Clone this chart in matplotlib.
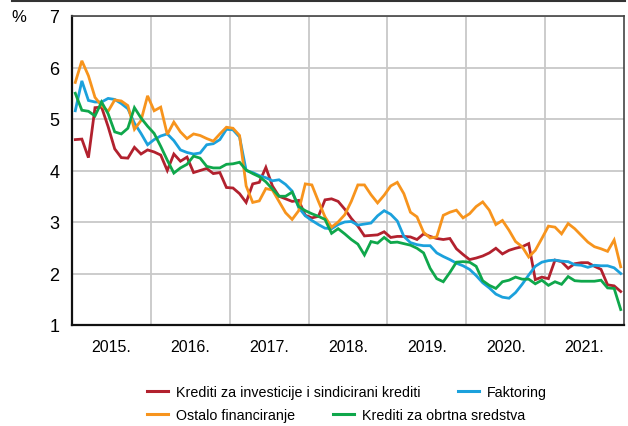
import numpy as np
import matplotlib
matplotlib.use("Agg")
import matplotlib.pyplot as plt
from matplotlib.lines import Line2D

plt.rcParams['font.family'] = ['Liberation Sans', 'DejaVu Sans']

# monthly data, Jan 2015 - Dec 2021 (%)
investicije = [4.60, 4.61, 4.25, 5.22, 5.23, 4.85, 4.42, 4.25, 4.24, 4.45, 4.32, 4.40,
               4.36, 4.30, 4.00, 4.32, 4.18, 4.26, 3.96, 4.00, 4.04, 3.94, 3.96, 3.67,
               3.66, 3.55, 3.38, 3.74, 3.77, 4.06, 3.70, 3.50, 3.45, 3.40, 3.42, 3.13,
               3.08, 3.11, 3.43, 3.45, 3.40, 3.25, 3.07, 2.92, 2.73, 2.74, 2.75, 2.81,
               2.70, 2.72, 2.72, 2.71, 2.66, 2.77, 2.72, 2.68, 2.66, 2.68, 2.48, 2.37,
               2.27, 2.30, 2.34, 2.40, 2.49, 2.38, 2.45, 2.49, 2.52, 2.58, 1.88, 1.93,
               1.90, 2.26, 2.23, 2.10, 2.19, 2.21, 2.21, 2.14, 2.08, 1.78, 1.76, 1.65]
faktoring = [5.16, 5.74, 5.36, 5.33, 5.33, 5.40, 5.38, 5.30, 5.20, 4.92, 4.72, 4.50,
             4.60, 4.67, 4.71, 4.58, 4.40, 4.35, 4.32, 4.34, 4.50, 4.52, 4.60, 4.80,
             4.79, 4.65, 4.00, 3.96, 3.90, 3.86, 3.80, 3.82, 3.73, 3.60, 3.28, 3.12,
             3.03, 2.95, 2.88, 2.87, 2.95, 3.00, 3.01, 2.94, 2.96, 2.98, 3.12, 3.22,
             3.15, 3.02, 2.72, 2.60, 2.56, 2.54, 2.54, 2.40, 2.33, 2.27, 2.20, 2.15,
             2.08, 1.96, 1.82, 1.72, 1.60, 1.54, 1.52, 1.63, 1.79, 1.97, 2.14, 2.22,
             2.25, 2.26, 2.24, 2.23, 2.17, 2.16, 2.12, 2.16, 2.15, 2.15, 2.11, 2.00]
ostalo = [5.71, 6.13, 5.84, 5.42, 5.26, 5.15, 5.37, 5.35, 5.26, 4.80, 4.97, 5.45,
          5.16, 5.23, 4.70, 4.94, 4.75, 4.62, 4.71, 4.68, 4.62, 4.57, 4.71, 4.84,
          4.82, 4.68, 3.70, 3.38, 3.41, 3.65, 3.62, 3.40, 3.18, 3.05, 3.22, 3.74,
          3.72, 3.40, 3.10, 2.90, 3.00, 3.14, 3.40, 3.72, 3.72, 3.53, 3.37, 3.52,
          3.70, 3.77, 3.55, 3.19, 3.10, 2.80, 2.69, 2.71, 3.13, 3.19, 3.23, 3.08,
          3.16, 3.30, 3.39, 3.23, 2.95, 3.03, 2.84, 2.62, 2.52, 2.32, 2.45, 2.68,
          2.92, 2.90, 2.77, 2.97, 2.87, 2.74, 2.61, 2.52, 2.48, 2.43, 2.65, 2.13]
obrtna = [5.50, 5.17, 5.15, 5.06, 5.33, 5.10, 4.75, 4.71, 4.82, 5.22, 5.02, 4.86,
          4.72, 4.47, 4.20, 3.95, 4.05, 4.12, 4.28, 4.24, 4.08, 4.05, 4.05, 4.12,
          4.13, 4.16, 4.01, 3.94, 3.88, 3.78, 3.64, 3.50, 3.50, 3.58, 3.30, 3.22,
          3.16, 3.11, 3.05, 2.78, 2.87, 2.77, 2.66, 2.57, 2.36, 2.62, 2.59, 2.70,
          2.60, 2.61, 2.58, 2.55, 2.49, 2.40, 2.10, 1.90, 1.84, 2.02, 2.22, 2.23,
          2.22, 2.14, 1.86, 1.77, 1.71, 1.84, 1.87, 1.93, 1.89, 1.89, 1.80, 1.87,
          1.77, 1.84, 1.79, 1.94, 1.86, 1.85, 1.85, 1.85, 1.87, 1.72, 1.71, 1.30]

years = [2015, 2016, 2017, 2018, 2019, 2020, 2021]
year_labels = ["2015.", "2016.", "2017.", "2018.", "2019.", "2020.", "2021."]

names = ["Krediti za investicije i sindicirani krediti", "Faktoring",
         "Ostalo financiranje", "Krediti za obrtna sredstva"]
colors = ["#b2212e", "#1ba1dc", "#f7941d", "#0fa74b"]

x = 2015 + (np.arange(len(investicije)) + 0.5) / 12

fig = plt.figure(figsize=(6.28, 4.27), dpi=100)
ax = fig.add_axes([72 / 628, 1 - 326 / 427, 552 / 628, 309 / 427])

for series, c in zip([investicije, faktoring, ostalo, obrtna], colors):
    ax.plot(x, series, color=c, lw=2.0, solid_joinstyle='miter', zorder=3)

ax.set_xlim(2015, 2022)
ax.set_ylim(1, 7)
ax.set_yticks(range(1, 8))
ax.set_xticks(np.arange(2016, 2022))
ax.set_xticklabels([])
ax.set_xticks([y + 0.5 for y in years], minor=True)
ax.set_xticklabels(year_labels, minor=True)
ax.tick_params(axis='x', which='both', length=0, pad=10, labelsize=11.5)
ax.tick_params(axis='y', length=0, pad=9, labelsize=13)
ax.grid(True, which='major', color='#c8c8c8', lw=1.3)
ax.set_axisbelow(True)
for side in ['left', 'bottom']:
    ax.spines[side].set_linewidth(1.6)
    ax.spines[side].set_color('#111111')
for side in ['top', 'right']:
    ax.spines[side].set_linewidth(1.2)
    ax.spines[side].set_color('#444444')

fig.text(19 / 628, 1 - 18 / 427, "%", ha='center', va='center', fontsize=12)
fig.add_artist(Line2D([12 / 628, 625 / 628], [1 - 2 / 427, 1 - 2 / 427],
                      color='#333333', lw=1.5))

# legend: two rows laid out as a flow (each row its own spacing)
handles = [Line2D([], [], color=c, lw=2.2) for c in colors]
for row, top in [((0, 1), 386), ((2, 3), 409)]:
    fig.legend([handles[i] for i in row], [names[i] for i in row],
               loc='upper left', bbox_to_anchor=(147 / 628, 1 - top / 427),
               ncol=2, frameon=False, fontsize=10.3, handlelength=1.5,
               handletextpad=0.55, columnspacing=2.6,
               borderaxespad=0, borderpad=0)

fig.savefig("out.png", dpi=100)
